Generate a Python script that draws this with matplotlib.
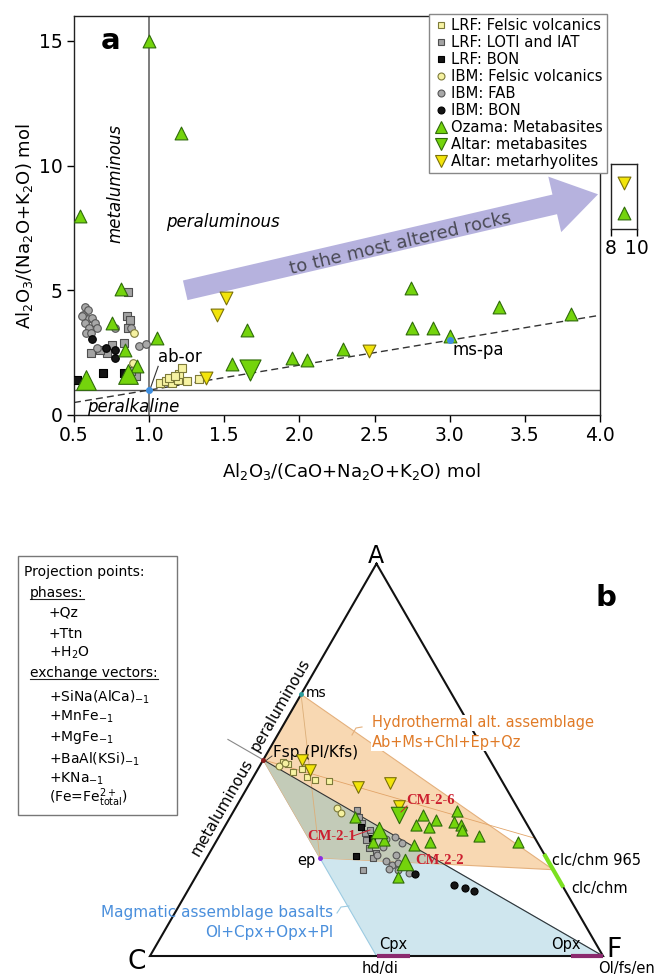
import numpy as np
import matplotlib
matplotlib.use("Agg")
import matplotlib.pyplot as plt
from matplotlib.lines import Line2D
from matplotlib.patches import Polygon, Rectangle
from matplotlib.ticker import FormatStrFormatter

plt.rcParams['font.family'] = ['DejaVu Sans']
plt.rcParams['mathtext.fontset'] = 'dejavusans'

# ---------------- Panel a data: x = A/CNK, y = A/NK ----------------
lrf_fel_x = [1.07, 1.11, 1.15, 1.19, 1.13, 1.20, 1.22, 1.25, 1.33, 1.17]
lrf_fel_y = [1.30, 1.35, 1.30, 1.40, 1.50, 1.65, 1.90, 1.35, 1.45, 1.55]
lrf_loti_x = [0.86, 0.85, 0.87, 0.86, 0.83, 0.75, 0.72, 0.67, 0.61, 0.91, 0.88]
lrf_loti_y = [4.95, 3.95, 3.80, 3.50, 2.90, 2.80, 2.50, 2.60, 2.50, 1.55, 1.75]
lrf_bon_x = [0.52, 0.69, 0.83]
lrf_bon_y = [1.40, 1.70, 1.70]
ibm_fel_x = [0.90, 0.89]
ibm_fel_y = [3.30, 2.10]
ibm_fab_x = [0.57, 0.59, 0.56, 0.59, 0.62, 0.64, 0.57, 0.60, 0.65, 0.58, 0.77, 0.88, 0.93, 0.98, 0.65, 0.55, 0.61]
ibm_fab_y = [4.35, 4.20, 4.00, 3.85, 3.90, 3.70, 3.70, 3.50, 3.50, 3.30, 3.50, 3.50, 2.75, 2.85, 2.70, 3.95, 3.30]
ibm_bon_x = [0.62, 0.71, 0.77, 0.77]
ibm_bon_y = [3.05, 2.70, 2.60, 2.30]
ozama_x = [1.00, 1.21, 0.54, 0.81, 0.75, 1.05, 0.84, 1.65, 1.55, 1.95, 2.05, 0.92,
           2.74, 3.33, 2.75, 2.89, 3.00, 3.81, 2.29]
ozama_y = [15.0, 11.3, 8.0, 5.05, 3.7, 3.1, 2.6, 3.4, 2.05, 2.3, 2.2, 1.95,
           5.1, 4.35, 3.5, 3.5, 3.15, 4.05, 2.65]
ozama_big_x = [0.58, 0.86]
ozama_big_y = [1.40, 1.65]
altar_mb_x = [1.67]
altar_mb_y = [1.80]
altar_mr_x = [1.51, 1.45, 1.38, 2.46]
altar_mr_y = [4.70, 4.00, 1.50, 2.55]
# inset (8-10 range)
inset_ozama_x, inset_ozama_y = [9.0], [8.1]
inset_mr_x, inset_mr_y = [9.0], [9.3]
ref_x = [1.0, 3.0]   # ab-or, ms-pa
ref_y = [1.0, 3.0]

# ---------------- Panel b data: ternary fractions (A, F) ----------------
b_ozama_A = [0.355, 0.291, 0.296, 0.283, 0.291, 0.360, 0.347, 0.334, 0.329, 0.370, 0.342,
             0.334, 0.321, 0.306, 0.291, 0.202]
b_ozama_F = [0.275, 0.347, 0.369, 0.441, 0.473, 0.423, 0.458, 0.420, 0.451, 0.493, 0.500,
             0.520, 0.528, 0.573, 0.667, 0.447]
b_ozama_big_A = [0.321, 0.240]   # CM-2-1, CM-2-2
b_ozama_big_F = [0.345, 0.443]
b_altar_mb_A = [0.360]           # CM-2-6
b_altar_mb_F = [0.370]
b_altar_mr_A = [0.500, 0.475, 0.431, 0.441, 0.383]
b_altar_mr_F = [0.086, 0.116, 0.244, 0.309, 0.358]
b_lrf_fel_A = [0.495, 0.490, 0.469, 0.477, 0.457, 0.449, 0.446]
b_lrf_fel_F = [0.046, 0.060, 0.081, 0.097, 0.118, 0.140, 0.172]
b_ibm_fel_A = [0.485, 0.492, 0.378, 0.365]
b_ibm_fel_F = [0.042, 0.052, 0.224, 0.239]
b_loti_A = [0.372, 0.355, 0.339, 0.314, 0.296, 0.276, 0.263, 0.250, 0.218, 0.321]
b_loti_F = [0.271, 0.284, 0.299, 0.318, 0.329, 0.346, 0.367, 0.367, 0.362, 0.325]
b_lrf_bon_A = [0.329, 0.301, 0.255]
b_lrf_bon_F = [0.301, 0.340, 0.327]
b_fab_A = [0.299, 0.304, 0.288, 0.258, 0.242, 0.232, 0.237, 0.222, 0.219, 0.258, 0.212, 0.278]
b_fab_F = [0.372, 0.389, 0.412, 0.372, 0.400, 0.418, 0.429, 0.417, 0.438, 0.414, 0.466, 0.375]
b_ibm_bon_A = [0.181, 0.174, 0.166, 0.209]
b_ibm_bon_F = [0.581, 0.609, 0.632, 0.481]

# reference phases (A, F)
pt_ms = (0.667, 0.0)
pt_fsp = (0.5, 0.0)
pt_ep = (0.25, 0.25)
pt_clc965 = (0.22, 0.78)
clc_seg = [(0.26, 0.74), (0.175, 0.825)]
cpx_seg = [(0.0, 0.50), (0.0, 0.575)]
opx_seg = [(0.0, 0.93), (0.0, 1.0)]

box_lines = ["Projection points:", "phases:", "+Qz", "+Ttn", r"+H$_2$O", "exchange vectors:",
             r"+SiNa(AlCa)$_{-1}$", r"+MnFe$_{-1}$", r"+MgFe$_{-1}$", r"+BaAl(KSi)$_{-1}$",
             r"+KNa$_{-1}$", r"(Fe=Fe$^{2+}_{\mathrm{total}}$)"]

STY = {
    'lrf_fel': dict(marker='s', fc='#f7f3a3', ec='#7d7a3a'),
    'lrf_loti': dict(marker='s', fc='#a3a3a3', ec='#4f4f4f'),
    'lrf_bon': dict(marker='s', fc='#151515', ec='#000000'),
    'ibm_fel': dict(marker='o', fc='#f5f1a0', ec='#7d7a3a'),
    'ibm_fab': dict(marker='o', fc='#a8a8a8', ec='#555555'),
    'ibm_bon': dict(marker='o', fc='#151515', ec='#000000'),
    'ozama': dict(marker='^', fc='#74d40c', ec='#2f6b0a'),
    'altar_mb': dict(marker='v', fc='#74d40c', ec='#2f6b0a'),
    'altar_mr': dict(marker='v', fc='#f2e40a', ec='#7a700a'),
}

W, H = 656, 975
fig = plt.figure(figsize=(W / 100, H / 100), dpi=100)


def fx(p):
    return p / W


def fy(p):
    return 1 - p / H


def sc(axis, x, y, key, s, z):
    st = STY[key]
    axis.scatter(x, y, s=s, marker=st['marker'], facecolors=st['fc'],
                 edgecolors=st['ec'], linewidths=0.8, zorder=z)


# ================= Panel a =================
ax = fig.add_axes([fx(74), fy(415), (600 - 74) / W, (415 - 16) / H])
ax.set_xlim(0.5, 4.0)
ax.set_ylim(0, 16)
ax.set_xticks(np.arange(0.5, 4.01, 0.5))
ax.set_yticks([0, 5, 10, 15])
ax.xaxis.set_major_formatter(FormatStrFormatter('%.1f'))
ax.tick_params(direction='out', length=5, width=1, labelsize=13.5, pad=3)
for sp in ax.spines.values():
    sp.set_linewidth(1.0)
    sp.set_color('#222222')

ax.axvline(1.0, color='#666666', lw=1.2, zorder=1)
ax.plot([0.5, 4.0], [1.0, 1.0], color='#555555', lw=1.0, zorder=1)
ax.plot([0.5, 4.0], [0.5, 4.0], color='#333333', lw=1.0, ls=(0, (5, 3)), zorder=1)

ax.annotate('', xy=(3.987, 8.85), xytext=(1.24, 5.0),
            arrowprops=dict(arrowstyle='simple,head_length=3.2,head_width=4.1,tail_width=1.45',
                            mutation_scale=10, fc='#b6b2de', ec='none', shrinkA=0, shrinkB=0),
            zorder=1)
ax.text(2.673, 6.88, 'to the most altered rocks', rotation=13.2, rotation_mode='anchor',
        ha='center', va='center', fontsize=13, color='#4a4a55', zorder=2)

sc(ax, lrf_loti_x, lrf_loti_y, 'lrf_loti', 26, 3)
sc(ax, ibm_fab_x, ibm_fab_y, 'ibm_fab', 30, 3)
sc(ax, lrf_fel_x, lrf_fel_y, 'lrf_fel', 26, 3)
sc(ax, lrf_bon_x, lrf_bon_y, 'lrf_bon', 26, 3)
sc(ax, ibm_bon_x, ibm_bon_y, 'ibm_bon', 30, 3)
sc(ax, ibm_fel_x, ibm_fel_y, 'ibm_fel', 30, 3)
sc(ax, altar_mr_x, altar_mr_y, 'altar_mr', 85, 4)
sc(ax, ozama_x, ozama_y, 'ozama', 85, 4)
sc(ax, ozama_big_x, ozama_big_y, 'ozama', 200, 4)
sc(ax, altar_mb_x, altar_mb_y, 'altar_mb', 230, 4)
ax.plot(ref_x, ref_y, 'o', ms=4, color='#3d8ee0', zorder=5)

ax.plot([1.007, 1.06], [1.05, 1.95], color='#333333', lw=0.8, zorder=2)
ax.text(1.06, 2.33, 'ab-or', fontsize=12, ha='left', va='center')
ax.text(3.02, 2.6, 'ms-pa', fontsize=12, ha='left', va='center')
ax.text(0.773, 9.3, 'metaluminous', rotation=90, fontsize=12, style='italic',
        ha='center', va='center')
ax.text(1.113, 7.72, 'peraluminous', fontsize=12, style='italic', ha='left', va='center')
ax.text(0.587, 0.33, 'peralkaline', fontsize=12, style='italic', ha='left', va='center')
ax.text(0.745, 15.0, 'a', fontsize=21, fontweight='bold', ha='center', va='center')

ax.set_xlabel(r'Al$_2$O$_3$/(CaO+Na$_2$O+K$_2$O) mol', fontsize=13)
ax.set_ylabel(r'Al$_2$O$_3$/(Na$_2$O+K$_2$O) mol', fontsize=13)
ax.xaxis.set_label_coords(0.527, -0.115)
ax.yaxis.set_label_coords(-0.074, 0.474)

handles = [
    Line2D([], [], ls='none', marker='s', ms=5, mfc=STY['lrf_fel']['fc'], mec=STY['lrf_fel']['ec'], mew=0.8, label='LRF: Felsic volcanics'),
    Line2D([], [], ls='none', marker='s', ms=5, mfc=STY['lrf_loti']['fc'], mec=STY['lrf_loti']['ec'], mew=0.8, label='LRF: LOTI and IAT'),
    Line2D([], [], ls='none', marker='s', ms=5, mfc=STY['lrf_bon']['fc'], mec=STY['lrf_bon']['ec'], mew=0.8, label='LRF: BON'),
    Line2D([], [], ls='none', marker='o', ms=5, mfc=STY['ibm_fel']['fc'], mec=STY['ibm_fel']['ec'], mew=0.8, label='IBM: Felsic volcanics'),
    Line2D([], [], ls='none', marker='o', ms=5, mfc=STY['ibm_fab']['fc'], mec=STY['ibm_fab']['ec'], mew=0.8, label='IBM: FAB'),
    Line2D([], [], ls='none', marker='o', ms=5, mfc=STY['ibm_bon']['fc'], mec=STY['ibm_bon']['ec'], mew=0.8, label='IBM: BON'),
    Line2D([], [], ls='none', marker='^', ms=9, mfc=STY['ozama']['fc'], mec=STY['ozama']['ec'], mew=0.8, label='Ozama: Metabasites'),
    Line2D([], [], ls='none', marker='v', ms=9, mfc=STY['altar_mb']['fc'], mec=STY['altar_mb']['ec'], mew=0.8, label='Altar: metabasites'),
    Line2D([], [], ls='none', marker='v', ms=9, mfc=STY['altar_mr']['fc'], mec=STY['altar_mr']['ec'], mew=0.8, label='Altar: metarhyolites'),
]
leg = ax.legend(handles=handles, loc='upper right', bbox_to_anchor=(fx(607), fy(14)),
                bbox_transform=fig.transFigure, fontsize=10.6, frameon=True, fancybox=False,
                edgecolor='#888888', framealpha=1, borderpad=0.3, labelspacing=0.13,
                handlelength=1.0, handletextpad=0.2, borderaxespad=0)
leg.get_frame().set_linewidth(1.0)
leg.set_zorder(10)

# inset
axi = fig.add_axes([fx(611), fy(229), 26 / W, 65 / H])
axi.set_xlim(8, 10)
axi.set_ylim(7.44, 10.04)
axi.set_xticks([8, 10])
axi.set_yticks([])
axi.tick_params(direction='out', length=5, width=1, labelsize=13.5, pad=2)
for sp in axi.spines.values():
    sp.set_linewidth(1.0)
    sp.set_color('#222222')
sc(axi, inset_mr_x, inset_mr_y, 'altar_mr', 85, 4)
sc(axi, inset_ozama_x, inset_ozama_y, 'ozama', 85, 4)

# ================= Panel b (ternary) =================
S3 = np.sqrt(3) / 2
SC = 453.0
axb = fig.add_axes([0, 0, 1, 445 / H])
axb.set_xlim((0 - 150) / SC, (656 - 150) / SC)
axb.set_ylim((956 - 975) / SC, (956 - 530) / SC)
axb.axis('off')


def tern(A, F):
    A = np.asarray(A, float)
    F = np.asarray(F, float)
    return F + A / 2, A * S3


def bx(px):
    return (px - 150) / SC


def by(py):
    return (956 - py) / SC


def tpt(p):
    x, y = tern(p[0], p[1])
    return (float(x), float(y))


# overlap point: where ep->clc965 crosses the Fsp-F join (A == C)
dA = pt_clc965[0] - pt_ep[0]
dF = pt_clc965[1] - pt_ep[1]
s_x = (1 - 2 * pt_ep[0] - pt_ep[1]) / (2 * dA + dF)
pt_X = (pt_ep[0] + s_x * dA, pt_ep[1] + s_x * dF)

blue_poly = Polygon([tpt(pt_fsp), tpt(cpx_seg[0]), tpt((0.0, 1.0))], closed=True,
                    fc='#cfe6ee', ec='#9ccbe2', lw=0.8, zorder=1)
orange_poly = Polygon([tpt(pt_ms), tpt(pt_fsp), tpt(pt_ep), tpt(pt_clc965)], closed=True,
                      fc='#f8d8b2', ec='#e4b07c', lw=0.8, zorder=1.1)
over_poly = Polygon([tpt(pt_fsp), tpt(pt_ep), tpt(pt_X)], closed=True,
                    fc='#c3cbb8', ec='none', zorder=1.2)
for p in (blue_poly, orange_poly, over_poly):
    axb.add_patch(p)

# tie lines
x1, y1 = tern([pt_ms[0], pt_ep[0]], [pt_ms[1], pt_ep[1]])
axb.plot(x1, y1, color='#dcae78', lw=0.6, zorder=1.5)
x1, y1 = tern([pt_fsp[0], 0.30], [pt_fsp[1], 0.70])
axb.plot(x1, y1, color='#e2a468', lw=0.6, zorder=1.5)

# triangle
tx, ty = tern([1, 0, 0, 1], [0, 0, 1, 0])
axb.plot(tx, ty, color='#111111', lw=1.5, zorder=3, solid_joinstyle='miter')
# Fsp-F join and its extension
x1, y1 = tern([pt_fsp[0], 0.0], [pt_fsp[1], 1.0])
axb.plot(x1, y1, color='#333333', lw=0.8, zorder=3)
x1, y1 = tern([pt_fsp[0], 0.552], [pt_fsp[1], -0.104])
axb.plot(x1, y1, color='#888888', lw=0.8, zorder=3)

# segments
for seg, col in ((cpx_seg, '#8b2a6e'), (opx_seg, '#8b2a6e'), (clc_seg, '#7be020')):
    x1, y1 = tern([seg[0][0], seg[1][0]], [seg[0][1], seg[1][1]])
    axb.plot(x1, y1, color=col, lw=3, zorder=3.5, solid_capstyle='butt')


# data
def tsc(A, F, key, s, z):
    x, y = tern(A, F)
    sc(axb, x, y, key, s, z)


tsc(b_loti_A, b_loti_F, 'lrf_loti', 22, 4)
tsc(b_fab_A, b_fab_F, 'ibm_fab', 24, 4)
tsc(b_lrf_bon_A, b_lrf_bon_F, 'lrf_bon', 22, 4)
tsc(b_ibm_bon_A, b_ibm_bon_F, 'ibm_bon', 26, 4)
tsc(b_lrf_fel_A, b_lrf_fel_F, 'lrf_fel', 22, 4)
tsc(b_ibm_fel_A, b_ibm_fel_F, 'ibm_fel', 24, 4)
tsc(b_altar_mr_A, b_altar_mr_F, 'altar_mr', 70, 5)
tsc(b_ozama_A, b_ozama_F, 'ozama', 64, 5)
tsc(b_ozama_big_A, b_ozama_big_F, 'ozama', 140, 5)
tsc(b_altar_mb_A, b_altar_mb_F, 'altar_mb', 140, 5)

for p, col in ((pt_ms, '#2a9d9d'), (pt_fsp, '#8b1a1a'), (pt_ep, '#8a2be2')):
    x, y = tpt(p)
    axb.plot([x], [y], 'o', ms=2.5, color=col, zorder=6)

# labels
white = dict(facecolor='white', edgecolor='none', pad=0.5)
axb.text(bx(376), by(556), 'A', fontsize=17, ha='center', va='center')
axb.text(bx(137), by(962), 'C', fontsize=19, ha='center', va='center')
axb.text(bx(614), by(950), 'F', fontsize=19, ha='center', va='center')
axb.text(bx(606), by(598), 'b', fontsize=21, fontweight='bold', ha='center', va='center')
axb.text(bx(306), by(693), 'ms', fontsize=10, ha='left', va='center')
axb.text(bx(273), by(752), 'Fsp (Pl/Kfs)', fontsize=11, ha='left', va='center')
axb.plot([bx(264), bx(272)], [by(762), by(756)], color='#333333', lw=0.6, zorder=3)
axb.text(bx(372), by(723), 'Hydrothermal alt. assemblage', fontsize=10.5, color='#e07b28',
         ha='left', va='center', bbox=white, zorder=7)
axb.text(bx(372), by(743), 'Ab+Ms+Chl+Ep+Qz', fontsize=10.5, color='#e07b28',
         ha='left', va='center', bbox=white, zorder=7)
axb.plot([bx(352), bx(356), bx(362)], [by(735), by(728), by(727)], color='#e4b07c', lw=0.8, zorder=3)

cm_font = dict(family='Liberation Serif', fontweight='bold', color='#cc1f2f', fontsize=10.5)
axb.text(bx(406), by(801), 'CM-2-6', ha='left', va='center', zorder=7, **cm_font)
axb.plot([bx(407), bx(401)], [by(806), by(812)], color='#cc1f2f', lw=0.7, zorder=6)
axb.text(bx(307), by(836), 'CM-2-1', ha='left', va='center', zorder=7, **cm_font)
axb.plot([bx(353), bx(370)], [by(836), by(830)], color='#cc1f2f', lw=0.7, zorder=6)
axb.text(bx(415), by(860), 'CM-2-2', ha='left', va='center', zorder=7, **cm_font)

axb.text(bx(315), by(860), 'ep', fontsize=10.5, ha='right', va='center')
axb.text(bx(552), by(860), 'clc/chm 965', fontsize=10.5, ha='left', va='center')
axb.text(bx(571), by(889), 'clc/chm', fontsize=10.5, ha='left', va='center')
axb.text(bx(333), by(912), 'Magmatic assemblage basalts', fontsize=11, color='#4a8fdc',
         ha='right', va='center')
axb.text(bx(333), by(932), 'Ol+Cpx+Opx+Pl', fontsize=11, color='#4a8fdc',
         ha='right', va='center')
axb.plot([bx(337), bx(341), bx(349)], [by(913), by(907), by(906)], color='#9ccbe2', lw=0.8, zorder=3)
axb.text(bx(393), by(945), 'Cpx', fontsize=10.5, ha='center', va='center')
axb.text(bx(566), by(945), 'Opx', fontsize=10.5, ha='center', va='center')
axb.text(bx(380), by(968), 'hd/di', fontsize=10.5, ha='center', va='center')
axb.text(bx(626), by(968), 'Ol/fs/en', fontsize=10.5, ha='center', va='center')
axb.text(bx(222), by(807), 'metaluminous', fontsize=11, rotation=60, rotation_mode='anchor',
         ha='center', va='center')
axb.text(bx(280), by(705), 'peraluminous', fontsize=11, rotation=60, rotation_mode='anchor',
         ha='center', va='center')

# projection box
fig.add_artist(Rectangle((fx(18), fy(815)), (177 - 18) / W, (815 - 556) / H,
                         transform=fig.transFigure, fill=False, ec='#777777', lw=1.0))
box_x = [24, 30, 49, 49, 49, 30, 49, 49, 49, 49, 49, 49]
box_y = [572, 593, 613, 634, 653, 673, 697, 717, 738, 759, 779, 798]
box_texts = []
for s, bxp, byp in zip(box_lines, box_x, box_y):
    box_texts.append(fig.text(fx(bxp), fy(byp), s, fontsize=10, ha='left', va='center'))

renderer = fig.canvas.get_renderer()
for idx in (1, 5):
    bb = box_texts[idx].get_window_extent(renderer)
    yl = bb.y0 + 1
    fig.add_artist(Line2D([bb.x0 / W, bb.x1 / W], [yl / H, yl / H], transform=fig.transFigure,
                          color='#222222', lw=0.8))

fig.savefig('out.png', dpi=100)
